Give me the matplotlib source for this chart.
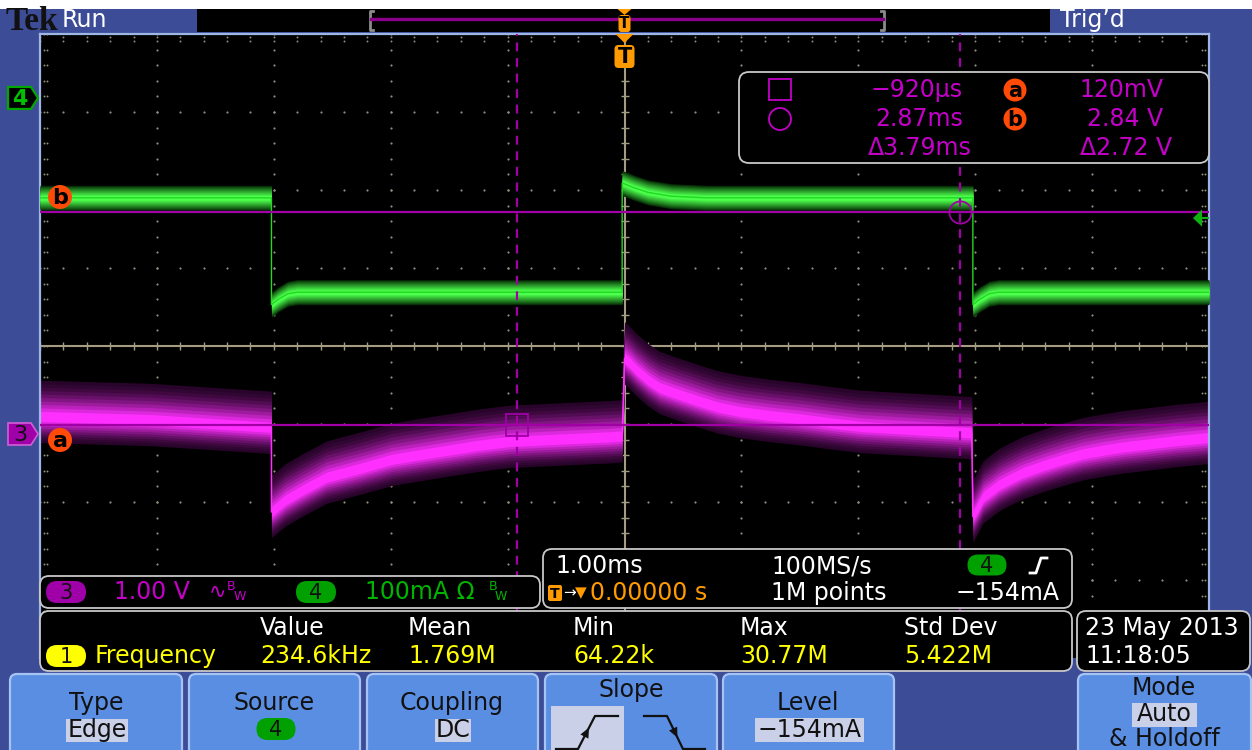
import matplotlib
matplotlib.use("Agg")
import matplotlib.pyplot as plt
from matplotlib.patches import FancyBboxPatch, Rectangle, Circle, Polygon
from matplotlib.colors import to_rgb
import numpy as np

plt.rcParams["font.family"] = ["DejaVu Sans"]

W, H = 1252, 750

# trace data, time in ms (trigger at 0)
ch3_t = [-5.0, -4.06, -3.02, -3.02, -2.90, -2.75, -2.55, -2.25, -1.99, -1.75, -1.50, -1.25,
         -0.98, -0.11, -0.02,
         0.0, 0.05, 0.10, 0.20, 0.30, 0.45, 0.65, 0.80, 1.0, 1.25, 1.5, 1.75, 2.03, 2.5, 2.97,
         2.98, 3.07, 3.20, 3.30, 3.41, 3.58, 3.75, 3.92, 4.10, 4.27, 4.44, 4.72, 5.0]
ch3_v = [0.22, 0.18, 0.08, -1.00, -0.85, -0.72, -0.56, -0.44, -0.33, -0.27, -0.21, -0.15,
         -0.10, -0.04, -0.03,
         0.97, 0.90, 0.82, 0.69, 0.59, 0.51, 0.41, 0.34, 0.28, 0.23, 0.19, 0.14, 0.09, 0.05, 0.01,
         -1.06, -0.81, -0.66, -0.58, -0.50, -0.41, -0.33, -0.26, -0.21, -0.17, -0.14, -0.09, -0.05]
ch4_t = [-5.0, -3.02, -3.02, -2.96, -2.88, -2.80, -0.02, -0.02, 0.08, 0.2, 0.4, 0.7,
         2.98, 2.98, 3.04, 3.12, 3.20, 5.0]
ch4_ma = [-128, -128, -265, -258, -251, -249, -249, -109, -115, -121, -126, -128,
          -128, -265, -258, -251, -249, -249]

# vertical settings
ch3_scale, ch3_pos = 1.0, -1.128     # V/div, div
ch4_scale, ch4_pos = 100.0, 3.18     # mA/div, div
trig_level = -154                    # mA

# cursors
cursor_t = [-0.92, 2.87]             # ms
cursor_v = [0.12, 2.84]              # V
cursor_time_txt = ["\u2212920\u00b5s", "2.87ms", "\u03943.79ms"]
cursor_volt_txt = ["120mV", "2.84 V", "\u03942.72 V"]

# measurement readout
meas_head = ["Value", "Mean", "Min", "Max", "Std Dev"]
meas_vals = ["234.6kHz", "1.769M", "64.22k", "30.77M", "5.422M"]

BLUE = "#3d4c97"
MAG = "#c400c8"
ORANGE = "#ff9a00"
FS = 17

fig = plt.figure(figsize=(W / 100, H / 100), dpi=100)
fig.patch.set_facecolor(BLUE)

bg = fig.add_axes([0, 0, 1, 1], zorder=0)
bg.set_xlim(0, W)
bg.set_ylim(H, 0)
bg.axis("off")

gx0, gx1, gy0, gy1 = 40, 1209, 34, 658
grat = fig.add_axes([gx0 / W, 1 - gy1 / H, (gx1 - gx0) / W, (gy1 - gy0) / H], zorder=1)
grat.set_facecolor("black")
grat.set_xlim(-5, 5)
grat.set_ylim(-4, 4)
grat.set_xticks([])
grat.set_yticks([])
for s in grat.spines.values():
    s.set_color("#9db6e6")
    s.set_linewidth(1.6)
grat.spines["bottom"].set_visible(False)

ov = fig.add_axes([0, 0, 1, 1], zorder=2)
ov.set_xlim(0, W)
ov.set_ylim(H, 0)
ov.axis("off")
ov.patch.set_alpha(0)


def to_px(t, d):
    return ov.transData.inverted().transform(grat.transData.transform((t, d)))


def blend(c0, c1, f):
    a, b = np.array(to_rgb(c0)), np.array(to_rgb(c1))
    return tuple(a + (b - a) * f)


# ---- top bar ----
bg.add_patch(Rectangle((0, 0), W, 9, fc="white", ec="none"))
bg.add_patch(Rectangle((197, 9), 853, 23, fc="black", ec="none"))
bg.plot([373, 370, 370, 373], [11, 11, 30, 30], color="#8c8c8c", lw=2)
bg.plot([881, 884, 884, 881], [11, 11, 30, 30], color="#8c8c8c", lw=2)
bg.plot([371, 883], [18.5, 18.5], color="#8a008a", lw=2.4)
bg.text(6, 21, "Tek", fontfamily="Liberation Serif", fontweight="bold", fontsize=24,
        color="#111111", va="center", ha="left")
bg.text(62, 20, "Run", color="white", fontsize=17, va="center", ha="left")
bg.text(1060, 20, "Trig\u2019d", color="white", fontsize=17, va="center", ha="left")

# ---- graticule ----
dot = "#8e8e7e"
minor_t = np.round(np.arange(-5, 5.001, 0.2), 3)
minor_d = np.round(np.arange(-4, 4.001, 0.2), 3)
for tc in range(-4, 5):
    if tc != 0:
        grat.scatter(np.full(minor_d.size, tc), minor_d, s=2.5, c=dot, lw=0, zorder=1)
for dc in range(-3, 4):
    if dc != 0:
        grat.scatter(minor_t, np.full(minor_t.size, dc), s=2.5, c=dot, lw=0, zorder=1)
for off in (0.03, 0.06):
    grat.scatter(np.full(minor_d.size, -5 + off), minor_d, s=2, c=dot, lw=0, zorder=1)
    grat.scatter(np.full(minor_d.size, 5 - off), minor_d, s=2, c=dot, lw=0, zorder=1)
    grat.scatter(minor_t, np.full(minor_t.size, 4 - off * 1.4), s=2, c=dot, lw=0, zorder=1)
cross = "#a49d84"
grat.axhline(0, color=cross, lw=1.5, zorder=1)
grat.axvline(0, color=cross, lw=1.5, zorder=1)
grat.scatter(minor_t, np.zeros(minor_t.size), marker="|", s=40, c=cross, lw=1, zorder=1)
grat.scatter(np.zeros(minor_d.size), minor_d, marker="_", s=40, c=cross, lw=1, zorder=1)

# ---- traces (glow built from stacked bands) ----
t3 = np.array(ch3_t)
y3 = np.array(ch3_v) / ch3_scale + ch3_pos
n = 10
for k in range(n):
    f = 1 - k / (n - 1)
    col = blend("#28042a", "#ff30ff", (1 - f) ** 1.5)
    grat.fill_between(t3, y3 - (0.06 + 0.27 * f), y3 + (0.07 + 0.40 * f),
                      color=col, lw=0, zorder=2)
grat.plot(t3, y3, color="#ff30ff", lw=1.1, zorder=2)

t4 = np.array(ch4_t)
y4 = np.array(ch4_ma) / ch4_scale + ch4_pos
for k in range(n):
    f = 1 - k / (n - 1)
    col = blend("#063006", "#4cff4c", (1 - f) ** 0.9)
    grat.fill_between(t4, y4 - (0.03 + 0.13 * f), y4 + (0.03 + 0.13 * f),
                      color=col, lw=0, zorder=3)
grat.plot(t4, y4, color="#22d822", lw=1.0, zorder=3)

# ---- cursors ----
cur_col = "#a000a6"
ya, yb = [v / ch3_scale + ch3_pos for v in cursor_v]
for yc in (ya, yb):
    grat.axhline(yc, color=cur_col, lw=1.6, zorder=5)
for tc in cursor_t:
    grat.axvline(tc, color=cur_col, lw=1.6, ls=(0, (4, 3)), zorder=5)
grat.plot(cursor_t[0], ya, marker="s", ms=16, mfc="none", mec=cur_col, mew=1.3, zorder=6)
grat.plot(cursor_t[1], yb, marker="o", ms=16, mfc="none", mec=cur_col, mew=1.3, zorder=6)

# trigger level arrow (right edge)
ytr = trig_level / ch4_scale + ch4_pos
grat.add_patch(Polygon([(4.863, ytr), (4.94, ytr + 0.11), (4.94, ytr - 0.11)],
                       closed=True, fc="#10b010", ec="none", zorder=6))
grat.plot([4.94, 5.0], [ytr, ytr], color="#10b010", lw=1.5, zorder=6)

# ---- left markers ----
_, p4 = to_px(-5, ch4_pos)
_, p3 = to_px(-5, ch3_pos)
ov.add_patch(Polygon([(8, p4 - 11), (31, p4 - 11), (38, p4), (31, p4 + 11), (8, p4 + 11)],
                     closed=True, fc="black", ec="#00a800", lw=1.6))
ov.text(20, p4 + 1, "4", color="#00c000", fontsize=16, fontweight="bold", ha="center", va="center")
ov.add_patch(Polygon([(8, p3 - 11), (31, p3 - 11), (38, p3), (31, p3 + 11), (8, p3 + 11)],
                     closed=True, fc="#a000a8", ec="#d060d8", lw=1.2))
ov.text(20, p3 + 1, "3", color="#111111", fontsize=16, ha="center", va="center")
for lab, cy in (("b", 197), ("a", 440)):
    ov.add_patch(Circle((60, cy), 12, fc="#ff4a08", ec="none"))
    ov.text(60, cy + 1, lab, color="black", fontsize=16, fontweight="bold", ha="center", va="center")

# ---- trigger position markers ----
xt, _ = to_px(0, 0)
ov.add_patch(Polygon([(xt - 7, 9), (xt + 7, 9), (xt, 15)], closed=True, fc=ORANGE, ec="none"))
ov.add_patch(FancyBboxPatch((xt - 6, 15), 12, 17, boxstyle="round,pad=0,rounding_size=3",
                            fc=ORANGE, ec="none"))
ov.text(xt, 24, "T", color="black", fontsize=11, fontweight="bold", ha="center", va="center")
ov.add_patch(Polygon([(xt - 9, 34), (xt + 9, 34), (xt, 43)], closed=True, fc=ORANGE, ec="none"))
ov.add_patch(FancyBboxPatch((xt - 10, 45), 20, 23, boxstyle="round,pad=0,rounding_size=4",
                            fc=ORANGE, ec="none"))
ov.text(xt, 57, "T", color="black", fontsize=15, fontweight="bold", ha="center", va="center")


def rbox(x0, y0, x1, y1, r=9, fc="black", ec="#c8c8c8", lw=1.3):
    ov.add_patch(FancyBboxPatch((x0, y0), x1 - x0, y1 - y0,
                                boxstyle=f"round,pad=0,rounding_size={r}", fc=fc, ec=ec, lw=lw))


def pill(cx, cy, w, h, fc, txt, tc="black", size=15):
    ov.add_patch(FancyBboxPatch((cx - w / 2, cy - h / 2), w, h,
                                boxstyle=f"round,pad=0,rounding_size={h / 2}", fc=fc, ec="none"))
    ov.text(cx, cy + 1, txt, color=tc, fontsize=size, ha="center", va="center")


# ---- cursor readout ----
rbox(739, 72, 1209, 163, r=10)
ov.add_patch(Rectangle((769, 79), 22, 21, fc="none", ec=MAG, lw=1.3))
ov.add_patch(Circle((780, 119), 11, fc="none", ec=MAG, lw=1.3))
for i, cy in enumerate((90, 119, 148)):
    dx = 9 if i == 2 else 0
    ov.text(963 + dx, cy, cursor_time_txt[i], color=MAG, fontsize=FS, ha="right", va="center")
    ov.text(1163 + dx, cy, cursor_volt_txt[i], color=MAG, fontsize=FS, ha="right", va="center")
for lab, cy in (("a", 90), ("b", 119)):
    ov.add_patch(Circle((1015, cy), 11.5, fc="#ff4a08", ec="none"))
    ov.text(1015, cy + 1, lab, color="black", fontsize=15, fontweight="bold", ha="center", va="center")

# ---- channel readout ----
rbox(40, 576, 540, 608, r=9)
pill(66, 592, 40, 22, "#a000a8", "3", "#111111")
ov.text(114, 592, "1.00 V", color=MAG, fontsize=FS, ha="left", va="center")
ov.text(209, 592, "\u223f", color=MAG, fontsize=15, ha="left", va="center")
ov.text(227, 586, "B", color=MAG, fontsize=9, ha="left", va="center")
ov.text(234, 596, "W", color=MAG, fontsize=9, ha="left", va="center")
pill(316, 592, 40, 22, "#00a000", "4", "#111111")
ov.text(365, 592, "100mA \u03a9", color="#00b400", fontsize=FS, ha="left", va="center")
ov.text(489, 586, "B", color="#00b400", fontsize=9, ha="left", va="center")
ov.text(495, 596, "W", color="#00b400", fontsize=9, ha="left", va="center")

# ---- timebase readout ----
rbox(543, 549, 1072, 608, r=9)
ov.text(555, 566, "1.00ms", color="white", fontsize=FS, ha="left", va="center")
ov.add_patch(FancyBboxPatch((548, 585), 14, 16, boxstyle="round,pad=0,rounding_size=2",
                            fc=ORANGE, ec="none"))
ov.text(555, 594, "T", color="black", fontsize=10, fontweight="bold", ha="center", va="center")
ov.text(563, 593, "\u2192", color="white", fontsize=11, ha="left", va="center")
ov.text(575, 593, "\u25bc", color=ORANGE, fontsize=11, ha="left", va="center")
ov.text(590, 593, "0.00000 s", color=ORANGE, fontsize=FS, ha="left", va="center")
ov.text(771, 566, "100MS/s", color="white", fontsize=FS, ha="left", va="center")
ov.text(771, 593, "1M points", color="white", fontsize=FS, ha="left", va="center")
pill(987, 565, 39, 21, "#00a000", "4", "#111111")
ov.plot([1030, 1036, 1041, 1047], [573, 573, 558, 558], color="white", lw=2)
ov.text(1060, 593, "\u2212154mA", color="white", fontsize=FS, ha="right", va="center")

# ---- measurement readout ----
rbox(40, 611, 1072, 671, r=9)
meas_x = [260, 408, 573, 740, 904]
for x, hd, val in zip(meas_x, meas_head, meas_vals):
    ov.text(x, 628, hd, color="white", fontsize=FS, ha="left", va="center")
    ov.text(x, 656, val, color="#ffff00", fontsize=FS, ha="left", va="center")
pill(66, 656, 40, 22, "#ffff00", "1", "#111111")
ov.text(95, 656, "Frequency", color="#ffff00", fontsize=FS, ha="left", va="center")

rbox(1077, 611, 1250, 671, r=9)
ov.text(1085, 628, "23 May 2013", color="white", fontsize=FS, ha="left", va="center")
ov.text(1085, 656, "11:18:05", color="white", fontsize=FS, ha="left", va="center")

# ---- soft buttons ----
BTN = "#5a8ee2"
HL = "#c9d0e8"


def button(x0, x1):
    ov.add_patch(FancyBboxPatch((x0, 674), x1 - x0, 90, boxstyle="round,pad=0,rounding_size=7",
                                fc=BTN, ec="#a5c3f3", lw=1.6))


def hl(x0, x1, y0, y1):
    ov.add_patch(Rectangle((x0, y0), x1 - x0, y1 - y0, fc=HL, ec="none"))


def btxt(x, y, s):
    ov.text(x, y, s, color="#111111", fontsize=FS, ha="center", va="center")


button(10, 182)
btxt(96, 703, "Type")
hl(66, 128, 719, 742)
btxt(97, 730, "Edge")

button(189, 360)
btxt(274, 703, "Source")
pill(276, 729, 39, 22, "#00a000", "4", "#111111")

button(367, 538)
btxt(452, 703, "Coupling")
hl(435, 471, 719, 742)
btxt(453, 730, "DC")

button(545, 717)
btxt(631, 690, "Slope")
hl(551, 624, 706, 752)
ov.plot([556, 578, 595, 618], [749, 749, 716, 716], color="#111111", lw=1.6)
ov.plot([644, 667, 683, 705], [716, 716, 749, 749], color="#111111", lw=1.6)
for (ax0, ay0), (ax1, ay1) in (((578, 749), (595, 716)), ((667, 716), (683, 749))):
    d = np.array([ax1 - ax0, ay1 - ay0], float)
    d /= np.hypot(*d)
    tip = np.array([ax0, ay0]) + d * 24
    base = tip - d * 10
    perp = np.array([-d[1], d[0]]) * 4.5
    ov.add_patch(Polygon([tip, base + perp, base - perp], closed=True, fc="#111111", ec="none"))

button(723, 894)
btxt(808, 703, "Level")
hl(755, 864, 718, 742)
btxt(809, 730, "\u2212154mA")

button(1078, 1251)
btxt(1164, 688, "Mode")
hl(1132, 1197, 703, 727)
btxt(1164, 714, "Auto")
btxt(1164, 739, "& Holdoff")

fig.savefig("out.png", dpi=100, facecolor=BLUE)
